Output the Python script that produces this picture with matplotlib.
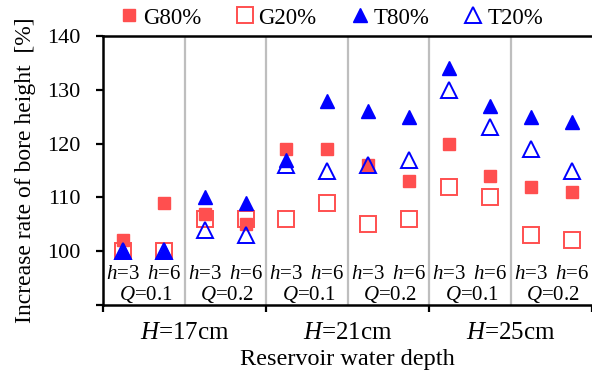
import matplotlib
matplotlib.use("Agg")
import matplotlib.pyplot as plt
import matplotlib.transforms as mtransforms

plt.rcParams["font.family"] = ["Liberation Serif", "DejaVu Serif"]
plt.rcParams["mathtext.fontset"] = "custom"
plt.rcParams["mathtext.rm"] = "Liberation Serif"
plt.rcParams["mathtext.it"] = "Liberation Serif:italic"

# Twelve cases: 3 water depths x 2 flow rates x 2 bore heights
h_labels = ["3", "6"] * 6
q_labels = ["0.1", "0.2"] * 3
depth_labels = ["17cm", "21cm", "25cm"]

G80 = [102, 109, 107, 105, 119, 119, 116, 113, 120, 114, 112, 111]
G20 = [100, 100, 106, 106, 106, 109, 105, 106, 112, 110, 103, 102]
T80 = [100, 100, 110, 109, 117, 128, 126, 125, 134, 127, 125, 124]
T20 = [100, 100, 104, 103, 116, 115, 116, 117, 130, 123, 119, 115]

red = "#FF4F4F"
blue = "#0000FF"

fig = plt.figure(figsize=(5.92, 3.71), dpi=100)
ax = fig.add_axes([103 / 592, 1 - 305 / 371, 489 / 592, 269 / 371])

x = [i + 0.5 for i in range(len(G80))]

# group separators
for xv in range(2, 12, 2):
    ax.axvline(xv, color="#BEBEBE", lw=1.6, zorder=0)

ax.plot(x, G80, ls="none", marker="s", ms=8.5, color=red, mec=red, label="G80%")
ax.plot(x, G20, ls="none", marker="s", ms=11, mfc="none", mec=red, mew=1.4, label="G20%")
ax.plot(x, T80, ls="none", marker="^", ms=9.5, color=blue, mec=blue, label="T80%")
ax.plot(x, T20, ls="none", marker="^", ms=12, mfc="none", mec=blue, mew=1.4, label="T20%")

ax.set_xlim(0, 12)
ax.set_ylim(90, 140)
ax.set_yticks([90, 100, 110, 120, 130, 140])
ax.set_yticklabels(["", "100", "110", "120", "130", "140"])
ax.set_xticks([0, 4, 8, 12])
ax.set_xticklabels([])
ax.tick_params(axis="both", direction="out", length=5, width=1.6)
ax.tick_params(axis="y", labelsize=16, pad=11)

for side in ("left", "top", "bottom"):
    ax.spines[side].set_linewidth(1.8)
    ax.spines[side].set_color("black")
ax.spines["right"].set_visible(False)

# case annotations inside the plot
for xi, h in zip(x, h_labels):
    ax.text(xi, 95.7, r"$h$=" + h, ha="center", va="center", fontsize=15)
for k, q in enumerate(q_labels):
    ax.text(2 * k + 1.05, 92.0, r"$Q$=" + q, ha="center", va="center", fontsize=15)

trans = mtransforms.blended_transform_factory(ax.transData, fig.transFigure)
for k, d in enumerate(depth_labels):
    ax.text(4 * k + 2, 1 - 333 / 371, r"$H$=" + d, ha="center", va="center",
            fontsize=18, transform=trans)

fig.text(347 / 592, 1 - 360 / 371, "Reservoir water depth", ha="center", va="center",
         fontsize=17.5)
ax.set_ylabel("Increase rate of bore height  [%]", fontsize=17)
ax.yaxis.set_label_coords(-(103 - 36) / 489, 0.5)

fig.legend(loc="center", bbox_to_anchor=(0.56, 1 - 18 / 371), ncol=4, frameon=False,
           fontsize=16.5, handlelength=0.8, handletextpad=0.2, columnspacing=1.5,
           borderaxespad=0)

fig.savefig("out.png", dpi=100)
